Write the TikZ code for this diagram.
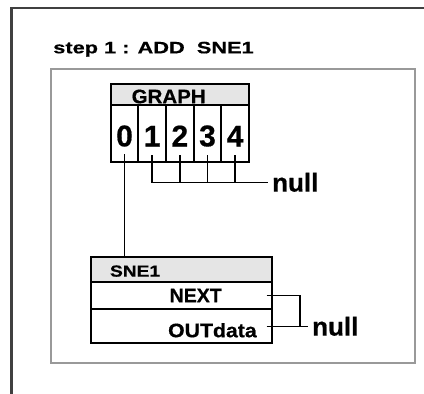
\documentclass[tikz,border=0pt]{standalone}
\usepackage{fontspec}
\setmainfont{Liberation Sans}[BoldFeatures={FakeBold=0.6}]
\newfontfamily\snefont{Liberation Sans}[FakeStretch=1.2,BoldFeatures={FakeBold=0.6}]
\newfontfamily\outfont{Liberation Sans}[FakeStretch=1.09,BoldFeatures={FakeBold=0.6}]
\newfontfamily\graphfont{Liberation Sans}[FakeStretch=1.05,BoldFeatures={FakeBold=0.6}]
\usetikzlibrary{positioning}

\tikzset{
  frame/.style={draw=black!75,line width=2.4pt},
  panel/.style={draw=black!40,line width=1.8pt},
  box/.style={draw,line width=1.9pt,inner sep=0pt,outer sep=0pt},
  head/.style={box,fill=black!10,align=left},
  row/.style={box,align=right,minimum width=180.7pt},
  cell/.style={box,minimum width=27.66pt,minimum height=57pt,text height=26pt,
    font=\fontsize{30}{30}\selectfont\bfseries},
  nul/.style={inner sep=4pt,font=\fontsize{26}{26}\selectfont\bfseries},
  link/.style={line width=1.5pt},
}

\begin{document}
\begin{tikzpicture}[x=1pt,y=-1pt]
    \useasboundingbox (0,0) rectangle (424,394);
    \draw[frame] (11.3,400) -- (11.3,8) -- (430,8);
    \coordinate (t0) at (53,53.3);
    \node[anchor=base west,inner sep=0pt,transform shape,xscale=1.32,
      font=\fontsize{16.5}{18}\selectfont\bfseries] (title) at (t0) {step 1 : ADD\ \ SNE1};
    \draw[panel] (51,68.8) rectangle (414.7,362.8);
    % graph array
    \node[head,anchor=north west,text width=96.3pt,inner xsep=21pt,minimum height=21pt,
      text height=17.6pt,font=\graphfont\fontsize{19.5}{20}\selectfont\bfseries]
      (graph) at (110.7,84) {GRAPH};
    \foreach \i in {0,...,4}
      \node[cell,anchor=north west] (c\i) at ({110.7+27.66*\i},105) {\i};
    % node SNE1
    \node[head,anchor=north west,text width=142.7pt,inner xsep=19pt,minimum height=25pt,
      text height=15pt,font=\snefont\fontsize{16}{17}\selectfont\bfseries]
      (sne) at (91,256.7) {SNE1};
    \node[row,below=0pt of sne,text width=80.7pt,inner xsep=50pt,minimum height=27.6pt,
      font=\fontsize{19.5}{20}\selectfont\bfseries] (sne-next) {NEXT};
    \node[row,below=0pt of sne-next,text width=150.7pt,inner xsep=15pt,minimum height=34pt,
      text height=22pt,font=\outfont\fontsize{19.5}{20}\selectfont\bfseries]
      (sne-out) {OUTdata};
    % null ends
    \node[nul,anchor=west] (nul1) at (268,182.3) {null};
    \node[nul,right=36.3pt of sne-out] (nul2) {null};
    % links
    \draw[link] ([yshift=8pt]c0.south) -- (c0.south |- sne.north);
    \draw[link] ([yshift=7pt]c1.south) |- (nul1.west);
    \foreach \i in {2,3,4}
      \draw[link] ([yshift=7pt]c\i.south) -- (c\i.south |- nul1.west);
    \draw[link] ([xshift=-5pt]sne-next.east) -| ([xshift=-8pt]nul2.west);
    \draw[link] ([xshift=-5pt]sne-out.east) -- (nul2.west);
\end{tikzpicture}
\end{document}
